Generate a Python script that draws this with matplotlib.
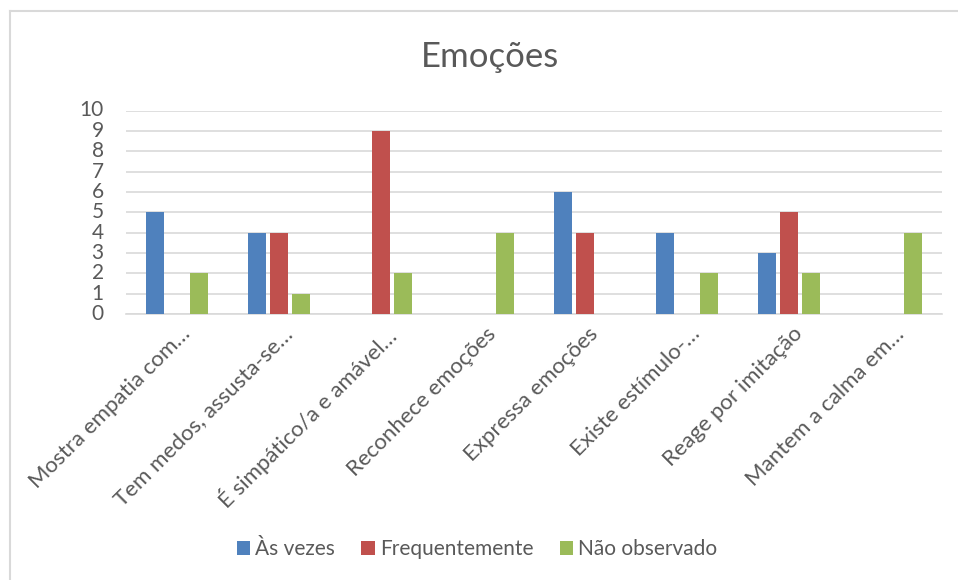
import matplotlib
matplotlib.use('Agg')
import matplotlib.pyplot as plt
import numpy as np
from matplotlib.lines import Line2D
from matplotlib.patches import Patch
from matplotlib.transforms import ScaledTranslation

BLUE = '#4F81BD'
RED = '#C0504D'
GREEN = '#9BBB59'
TEXT = '#595959'
GRID = '#D9D9D9'

plt.rcParams['font.family'] = ['Lato', 'DejaVu Sans']

categories = [
    'Mostra empatia com…',
    'Tem medos, assusta-se…',
    'É simpático/a e amável…',
    'Reconhece emoções',
    'Expressa emoções',
    'Existe estímulo-…',
    'Reage por imitação',
    'Mantem a calma em…',
]
as_vezes = [5, 4, 0, 0, 6, 4, 3, 0]
frequentemente = [0, 4, 9, 0, 4, 0, 5, 0]
nao_observado = [2, 1, 2, 4, 0, 2, 2, 4]
series_names = ['Às vezes', 'Frequentemente', 'Não observado']

fig = plt.figure(figsize=(9.58, 5.8), dpi=100)
ax = fig.add_axes([126 / 958, 1 - 314 / 580, 816 / 958, 203.5 / 580])

x = np.arange(len(categories))
step = 0.22
width = 0.176
for i, (vals, color) in enumerate(zip([as_vezes, frequentemente, nao_observado],
                                      [BLUE, RED, GREEN])):
    ax.bar(x + (i - 1) * step, vals, width, color=color, zorder=3)

ax.set_xlim(-0.5, len(categories) - 0.5)
ax.set_ylim(0, 10)
ax.set_yticks(range(0, 11))
ax.yaxis.grid(True, color=GRID, linewidth=1.2, zorder=0)
ax.set_axisbelow(True)
for side in ['top', 'right', 'left']:
    ax.spines[side].set_visible(False)
ax.spines['bottom'].set_color(GRID)
ax.spines['bottom'].set_linewidth(1.2)
ax.tick_params(axis='both', length=0, colors=TEXT, labelsize=15)
ax.tick_params(axis='y', pad=16)

ax.set_xticks(x)
ax.set_xticklabels(categories, rotation=45, ha='right', rotation_mode='anchor',
                   fontsize=16)
offset = ScaledTranslation(3 / 100, -5 / 100, fig.dpi_scale_trans)
for lbl in ax.get_xticklabels():
    lbl.set_transform(lbl.get_transform() + offset)
for lbl in ax.get_yticklabels():
    lbl.set_va('center')

fig.text(490 / 958, 1 - 57 / 580, 'Emoções', ha='center', va='center',
         fontsize=25, color=TEXT)

handles = [Patch(facecolor=c) for c in [BLUE, RED, GREEN]]
fig.legend(handles, series_names, loc='center', bbox_to_anchor=(477 / 958, 1 - 549 / 580),
           ncol=3, frameon=False, fontsize=15, labelcolor=TEXT,
           handlelength=0.65, handleheight=0.65, handletextpad=0.25, columnspacing=1.25)

# chart frame, only the top and left edges fall inside the image
fig.add_artist(Line2D([10 / 958, 10 / 958], [0, 1 - 11 / 580], color=GRID,
                      linewidth=1.5, transform=fig.transFigure))
fig.add_artist(Line2D([10 / 958, 1], [1 - 11 / 580, 1 - 11 / 580], color=GRID,
                      linewidth=1.5, transform=fig.transFigure))

fig.savefig('out.png', dpi=100, facecolor='white')
